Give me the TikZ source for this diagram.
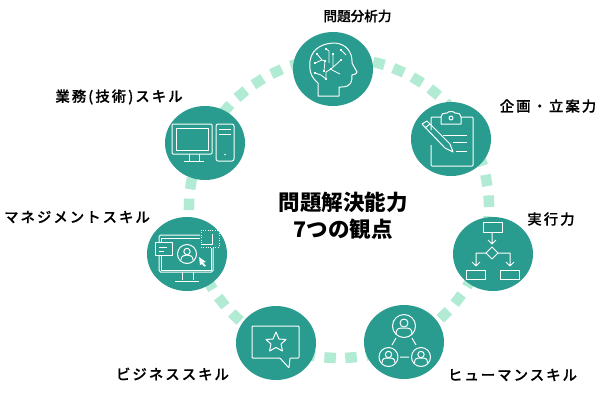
\documentclass[tikz,border=0pt]{standalone}
\usepackage{fontspec}
\setmainfont{Noto Sans CJK JP}
\newfontfamily\labfont[FakeBold=0.4]{Noto Sans CJK JP Medium}
\newfontfamily\labwide[LetterSpace=14,FakeBold=0.4]{Noto Sans CJK JP Medium}
\definecolor{teal1}{HTML}{2A9B8F}
\definecolor{ring}{HTML}{B2EBD3}
\usetikzlibrary{shapes.geometric}
\tikzset{
 hub/.style={fill=teal1,draw=none,ellipse,minimum width=80pt,minimum height=74pt,inner sep=0pt},
 ic/.style={draw=white,line width=1pt,fill=none,line join=round},
 lab/.style={font=\fontsize{13.6}{15}\selectfont\labfont,text=black,inner sep=0pt,anchor=center},
 labw/.style={font=\fontsize{14.4}{15}\selectfont\labwide,text=black,inner sep=0pt,anchor=center},
 dot/.style={fill=ring,draw=none,minimum width=11.5pt,minimum height=10.5pt,inner sep=0pt}
}
\begin{document}
\begin{tikzpicture}[x=1pt,y=-1pt]
\useasboundingbox (0,0) rectangle (600,400);
\fill[white] (0,0) rectangle (600,400);
\foreach \k in {0,...,44}{
 \pgfmathsetmacro\ang{74.6+8*\k}
 \node[dot,rotate=\ang+90] at ({339+150*cos(\ang)},{208-150*sin(\ang)}) {};
}
\node[hub] (brain) at (333,69) {};
\node[hub] (plan) at (451,139) {};
\node[hub] (flow) at (493,254) {};
\node[hub] (people) at (404,342) {};
\node[hub] (star) at (276,343) {};
\node[hub] (mgmt) at (187,254) {};
\node[hub] (pc) at (205,143) {};
% brain
\begin{scope}[shift={(brain.center)}]
\draw[ic] (-15,27) -- (-15,14) .. controls (-22,8) and (-24,2) .. (-23,-8) .. controls (-21,-22) and (-8,-26) .. (2,-26) .. controls (14,-25) and (19,-16) .. (19,-8) -- (19,-6) -- (24,3) .. controls (24,5) and (22,5) .. (19,6) .. controls (19,12) and (19,18) .. (8,18) -- (6,18) -- (6,27) -- cycle;
\draw[ic,line width=0.8pt,fill=white] (-16,-15) circle (.7) (-18,-6) circle (.7) (-18,4) circle (.7) (-7,-20) circle (.7) (-8,-8) circle (.7) (-9,2) circle (.7) (-7,10) circle (.7) (0,-15) circle (.7) (-2,0) circle (.7) (8,-9) circle (.7) (8,-19) circle (.7);
\draw[ic,line width=0.8pt] (-16,-15) -- (-11,-9) -- (-18,-6) (-11,-9) -- (-8,-8) -- (-9,2) (-18,4) -- (-12,6) -- (-7,10) -- (-7,3) -- (-2,0) (-7,-20) -- (-4,-18) -- (-4,-6) (0,-15) -- (0,-2) (-2,0) -- (8,-9) (-1,1) -- (7,5) (8,-19) -- (13,-14);
\end{scope}
% clipboard
\begin{scope}[shift={(plan.center)}]
\draw[ic,rounded corners=1pt] (-20,-9) -- (-20,-22) -- (-10,-22) (10,-22) -- (22,-22) -- (22,27) -- (-20,27) -- (-20,6);
\draw[ic] (-10,-15) -- (-10,-22) .. controls (-10,-25) and (-8,-26) .. (-5,-26) -- (-4,-26) .. controls (-3,-28) and (3,-28) .. (4,-26) -- (5,-26) .. controls (8,-26) and (10,-25) .. (10,-22) -- (10,-15) -- cycle;
\draw[ic] (0,-21) circle (2);
\draw[ic] (-8,-4) -- (16,-4) (2,3) -- (16,3) (5,12) -- (16,12);
\draw[ic] (-29,-15) -- (-24,-18) -- (-1,5) -- (2,13) -- (-6,9) -- cycle;
\draw[ic] (-26,-11) -- (-21,-15);
\end{scope}
% flow
\begin{scope}[shift={(flow.center)}]
\draw[ic] (-10,-32) rectangle (9,-22);
\draw[ic] (-1,-22) -- (-1,-10) (-5,-14) -- (-1,-10) -- (3,-14);
\draw[ic] (-1,-7) -- (5,-1) -- (-1,5) -- (-7,-1) -- cycle;
\draw[ic] (-7,-1) -- (-17,-1) -- (-17,12) (-21,8) -- (-17,12) -- (-13,8);
\draw[ic] (5,-1) -- (17,-1) -- (17,12) (13,8) -- (17,12) -- (21,8);
\draw[ic] (-27,16) rectangle (-8,25);
\draw[ic] (7,16) rectangle (26,25);
\end{scope}
% people
\begin{scope}[shift={(people.center)}]
\draw[ic] (0,-16) circle (11.5);
\draw[ic] (0,-19) circle (4);
\draw[ic] (-8,-8) .. controls (-8,-14) and (-5,-14) .. (0,-14) .. controls (5,-14) and (8,-14) .. (8,-8);
\draw[ic] (-15.5,15) circle (9.5);
\draw[ic] (-15.5,12.5) circle (3.2);
\draw[ic] (-22,21) .. controls (-22,16) and (-19,16) .. (-15.5,16) .. controls (-12,16) and (-9,16) .. (-9,21);
\draw[ic] (17,15) circle (9.5);
\draw[ic] (17,12.5) circle (3.2);
\draw[ic] (10.5,21) .. controls (10.5,16) and (13,16) .. (17,16) .. controls (21,16) and (23.5,16) .. (23.5,21);
\draw[ic] (-12,3) -- (-8,-4) (12,3) -- (8,-4) (-4,15) -- (5,15);
\end{scope}
% star
\begin{scope}[shift={(star.center)}]
\draw[ic,rounded corners=0.8pt] (-24,-17) -- (23,-17) -- (23,15) -- (14,15) -- (13,25) -- (4,15) -- (-24,15) -- cycle;
\draw[ic] (0,-11) -- (3,-4) -- (10,-3.5) -- (5,1) -- (6.5,8) -- (0,4.5) -- (-6.5,8) -- (-5,1) -- (-10,-3.5) -- (-3,-4) -- cycle;
\end{scope}
% management
\begin{scope}[shift={(mgmt.center)}]
\draw[ic,rounded corners=1.5pt] (-28,-12) -- (-28,-19) -- (13,-19) (-28,1) -- (-28,18) -- (26,18) -- (26,-6);
\draw[ic] (-26,-12) -- (-26,-16) -- (13,-16);
\draw[ic] (-26,1) -- (-26,16) -- (24,16) -- (24,-6);
\draw[ic] (-5,18) -- (-5,26) (6,18) -- (6,26) (-12,27) -- (12,27);
\draw[ic] (-32,-12) rectangle (-15,1);
\draw[ic] (-28,-7) -- (-20,-7) (-28,-3) -- (-23,-3);
\draw[ic] (0,0) circle (9.5);
\draw[ic] (0,-2.5) circle (3.2);
\draw[ic] (-6,6) .. controls (-6,2) and (-3,1) .. (0,1) .. controls (3,1) and (6,2) .. (6,6);
\fill[white] (12,3) -- (19,8) -- (16,8.5) -- (19,12) -- (17,12.5) -- (15,10) -- (13,11) -- cycle;
\draw[ic,dash pattern=on 1pt off 1.4pt] (14,-24) rectangle (32,-7);
\draw[ic] (14,-10) -- (25,-10) -- (25,-20);
\end{scope}
% pc
\begin{scope}[shift={(pc.center)}]
\draw[ic,rounded corners=1pt] (-33,-19) rectangle (7,11);
\draw[ic] (-29,-15) rectangle (3,7);
\draw[ic] (-16,11) -- (-16,18) (-6,11) -- (-6,18) (-21,18) -- (-1,18);
\draw[ic,rounded corners=2pt] (11,-19) rectangle (29,18);
\draw[ic] (14,-14) -- (26,-14) (14,-9) -- (26,-9);
\fill[white] (20,11.5) circle (.9);
\end{scope}
\node[lab] (l1) at (357.5,16) {問題分析力};
\node[labw] (l2) at (548,106) {企画・立案力};
\node[labw] (l3) at (551,219) {実行力};
\node[labw] (l4) at (512.5,375) {ヒューマンスキル};
\node[labw] (l5) at (172.5,374) {ビジネススキル};
\node[labw] (l6) at (77,217) {マネジメントスキル};
\node[labw] (l7) at (119,97) {業務(技術)スキル};
\node[font=\fontsize{21.5}{27}\selectfont\bfseries,align=center,inner sep=0pt,text=black] (title) at (343,216) {問題解決能力\\7つの観点};
\end{tikzpicture}
\end{document}
